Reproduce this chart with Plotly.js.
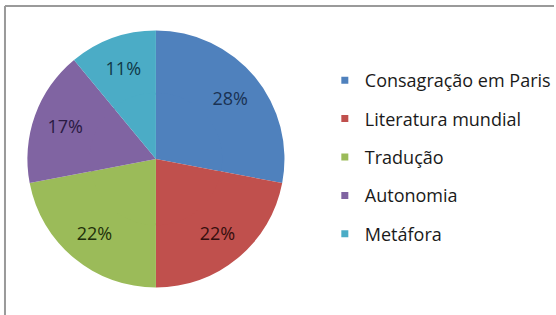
<!DOCTYPE html>
<html>
<head>
<meta charset="utf-8">
<script src="https://cdn.plot.ly/plotly-3.0.1.min.js"></script>
<style>html,body{margin:0;padding:0;background:#fff;}#chart{width:556px;height:315px;}</style>
</head>
<body>
<div id="chart"></div>
<script>
var categories = ["Consagração em Paris", "Literatura mundial", "Tradução", "Autonomia", "Metáfora"];
var values = [28, 22, 22, 17, 11];
var sliceColors = ["#4f81bd", "#c0504d", "#9bbb59", "#8064a2", "#4bacc6"];
var labelColors = ["#1a3253", "#350e0e", "#22300b", "#2a1a42", "#103848"];

var W = 556, H = 315;
var cx = 156.5, cy = 159, R = 129;
var holeFrac = 0.5;

function dom(r) {
  return {x: [(cx - r) / W, (cx + r) / W], y: [(H - cy - r) / H, (H - cy + r) / H]};
}

var traces = [{
  type: "pie",
  labels: categories,
  values: values,
  sort: false,
  direction: "clockwise",
  rotation: 0,
  hole: holeFrac,
  marker: {colors: sliceColors, line: {width: 0}},
  textinfo: "percent",
  texttemplate: "%{percent:.0%}",
  textposition: "inside",
  insidetextorientation: "horizontal",
  insidetextfont: {family: "'Open Sans', sans-serif", size: 18, color: labelColors},
  hoverinfo: "none",
  showlegend: false,
  domain: dom(R)
}, {
  type: "pie",
  labels: categories,
  values: values,
  sort: false,
  direction: "clockwise",
  rotation: 0,
  marker: {colors: sliceColors, line: {width: 0}},
  textinfo: "none",
  hoverinfo: "none",
  showlegend: false,
  domain: dom(R * holeFrac + 2)
}];

categories.forEach(function (c, i) {
  traces.push({
    type: "scatter",
    x: [null], y: [null],
    mode: "markers",
    name: c,
    legendgroup: "g" + i,
    marker: {symbol: "square", size: 7, color: sliceColors[i]},
    hoverinfo: "none"
  });
});

var layout = {
  width: W, height: H,
  margin: {l: 0, r: 0, t: 0, b: 0},
  paper_bgcolor: "#ffffff",
  plot_bgcolor: "rgba(0,0,0,0)",
  xaxis: {visible: false, domain: [0.6, 1]},
  yaxis: {visible: false},
  showlegend: true,
  legend: {
    x: 326 / W, xanchor: "left",
    y: 1 - 62 / H, yanchor: "top",
    font: {family: "'Open Sans', sans-serif", size: 18, color: "#1a1a1a"},
    tracegroupgap: 12,
    bgcolor: "rgba(0,0,0,0)",
    borderwidth: 0
  },
  shapes: [
    {type: "line", xref: "paper", yref: "paper", x0: 5 / W, x1: 1, y0: 1 - 6 / H, y1: 1 - 6 / H, line: {color: "#9a9a9a", width: 2}},
    {type: "line", xref: "paper", yref: "paper", x0: 5 / W, x1: 5 / W, y0: 0, y1: 1 - 6 / H, line: {color: "#9a9a9a", width: 2}}
  ]
};

Plotly.newPlot("chart", traces, layout, {displayModeBar: false, staticPlot: true});
</script>
</body>
</html>
